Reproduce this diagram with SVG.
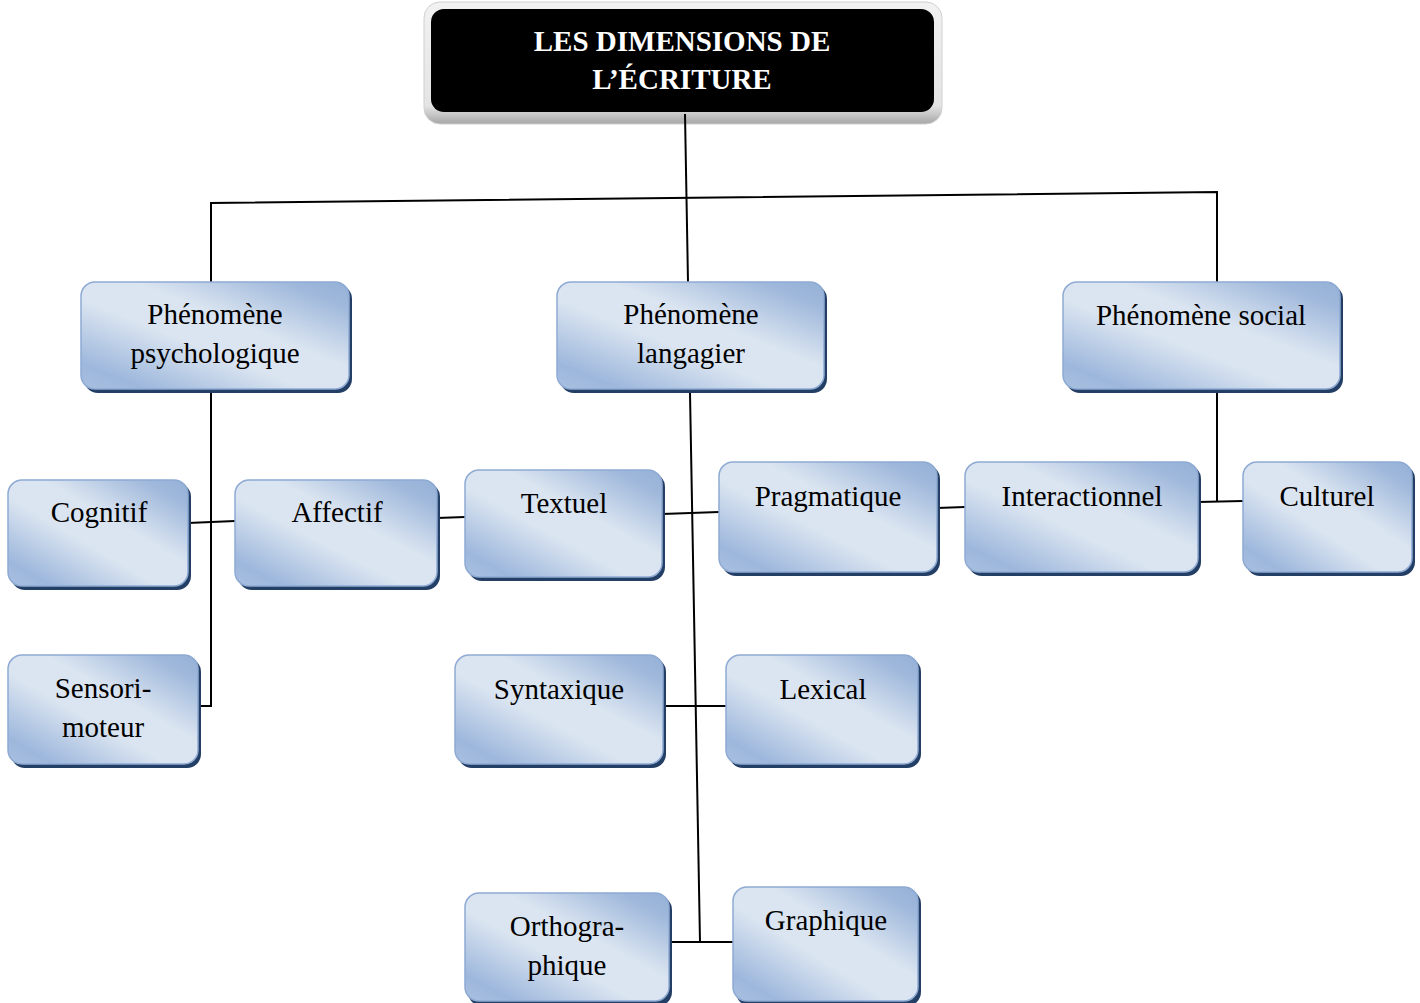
<svg xmlns="http://www.w3.org/2000/svg" width="1420" height="1003" viewBox="0 0 1420 1003">
  <defs>
    <linearGradient id="boxFill" x1="0" y1="1" x2="1" y2="0">
      <stop offset="0" stop-color="#a9c0e0"/>
      <stop offset="0.12" stop-color="#9db7dc"/>
      <stop offset="0.42" stop-color="#dbe5f1"/>
      <stop offset="0.6" stop-color="#dbe5f1"/>
      <stop offset="0.88" stop-color="#9fb8db"/>
      <stop offset="1" stop-color="#95b1d7"/>
    </linearGradient>
    <linearGradient id="frameFill" x1="0" y1="0" x2="0" y2="1">
      <stop offset="0" stop-color="#f2f2f2"/>
      <stop offset="0.85" stop-color="#e4e4e4"/>
      <stop offset="1" stop-color="#a6a6a6"/>
    </linearGradient>
  </defs>
  <style>
    .shadow { fill: #243f66; }
    .box { fill: url(#boxFill); stroke: #8eaad3; stroke-width: 1.5; }
    .lbl { font-family: "Liberation Serif", "Times New Roman", serif; font-size: 29px; fill: #000; text-anchor: middle; }
    .ttl { font-family: "Liberation Serif", "Times New Roman", serif; font-size: 29px; font-weight: bold; fill: #fff; text-anchor: middle; }
    .link { fill: none; stroke: #000; stroke-width: 2; }
  </style>
  <rect width="1420" height="1003" fill="#fff"/>

  <!-- title -->
  <g id="title">
    <rect x="424" y="2" width="518" height="122" rx="16" fill="url(#frameFill)" stroke="#d0d0d0" stroke-width="1"/>
    <rect x="431" y="9" width="503" height="103" rx="13" fill="#000"/>
    <text class="ttl" x="682" y="51">LES DIMENSIONS DE</text>
    <text class="ttl" x="682" y="89">L’ÉCRITURE</text>
  </g>

  <!-- connectors -->
  <g id="connectors">
    <path class="link" d="M685,114 L688,282"/>
    <path class="link" d="M211,282 L211,203 L1217,192 L1217,282"/>
    <path class="link" d="M211,392 L211,706 L198,706"/>
    <path class="link" d="M188,523 L235,521"/>
    <path class="link" d="M437,518 L465,517"/>
    <path class="link" d="M690,393 L700,942"/>
    <path class="link" d="M662,514 L719,512"/>
    <path class="link" d="M937,508 L965,507"/>
    <path class="link" d="M1217,392 L1217,502"/>
    <path class="link" d="M1198,502 L1243,501"/>
    <path class="link" d="M663,706 L726,706"/>
    <path class="link" d="M669,942 L733,942"/>
  </g>

  <g id="psychologique">
    <rect class="shadow" x="84" y="285" width="268" height="108" rx="14"/>
    <rect class="box" x="81" y="282" width="268" height="107" rx="14"/>
    <text class="lbl" x="215" y="324">Phénomène</text>
    <text class="lbl" x="215" y="363">psychologique</text>
  </g>
  <g id="langagier">
    <rect class="shadow" x="560" y="285" width="267" height="108" rx="14"/>
    <rect class="box" x="557" y="282" width="267" height="107" rx="14"/>
    <text class="lbl" x="691" y="324">Phénomène</text>
    <text class="lbl" x="691" y="363">langagier</text>
  </g>
  <g id="social">
    <rect class="shadow" x="1066" y="285" width="277" height="108" rx="14"/>
    <rect class="box" x="1063" y="282" width="277" height="107" rx="14"/>
    <text class="lbl" x="1201" y="325">Phénomène social</text>
  </g>

  <g id="cognitif">
    <rect class="shadow" x="11" y="483" width="180" height="107" rx="14"/>
    <rect class="box" x="8" y="480" width="180" height="106" rx="14"/>
    <text class="lbl" x="99" y="522">Cognitif</text>
  </g>
  <g id="affectif">
    <rect class="shadow" x="238" y="483" width="202" height="107" rx="14"/>
    <rect class="box" x="235" y="480" width="202" height="106" rx="14"/>
    <text class="lbl" x="337" y="522">Affectif</text>
  </g>
  <g id="textuel">
    <rect class="shadow" x="468" y="473" width="197" height="108" rx="14"/>
    <rect class="box" x="465" y="470" width="197" height="107" rx="14"/>
    <text class="lbl" x="564" y="513">Textuel</text>
  </g>
  <g id="pragmatique">
    <rect class="shadow" x="722" y="465" width="218" height="111" rx="14"/>
    <rect class="box" x="719" y="462" width="218" height="110" rx="14"/>
    <text class="lbl" x="828" y="506">Pragmatique</text>
  </g>
  <g id="interactionnel">
    <rect class="shadow" x="968" y="465" width="233" height="111" rx="14"/>
    <rect class="box" x="965" y="462" width="233" height="110" rx="14"/>
    <text class="lbl" x="1082" y="506">Interactionnel</text>
  </g>
  <g id="culturel">
    <rect class="shadow" x="1246" y="465" width="169" height="111" rx="14"/>
    <rect class="box" x="1243" y="462" width="169" height="110" rx="14"/>
    <text class="lbl" x="1327" y="506">Culturel</text>
  </g>

  <g id="sensori-moteur">
    <rect class="shadow" x="11" y="658" width="190" height="110" rx="14"/>
    <rect class="box" x="8" y="655" width="190" height="109" rx="14"/>
    <text class="lbl" x="103" y="698">Sensori-</text>
    <text class="lbl" x="103" y="737">moteur</text>
  </g>
  <g id="syntaxique">
    <rect class="shadow" x="458" y="658" width="208" height="110" rx="14"/>
    <rect class="box" x="455" y="655" width="208" height="109" rx="14"/>
    <text class="lbl" x="559" y="699">Syntaxique</text>
  </g>
  <g id="lexical">
    <rect class="shadow" x="729" y="658" width="192" height="110" rx="14"/>
    <rect class="box" x="726" y="655" width="192" height="109" rx="14"/>
    <text class="lbl" x="823" y="699">Lexical</text>
  </g>

  <g id="orthographique">
    <rect class="shadow" x="468" y="896" width="204" height="110" rx="14"/>
    <rect class="box" x="465" y="893" width="204" height="108" rx="14"/>
    <text class="lbl" x="567" y="936">Orthogra-</text>
    <text class="lbl" x="567" y="975">phique</text>
  </g>
  <g id="graphique">
    <rect class="shadow" x="736" y="890" width="185" height="116" rx="14"/>
    <rect class="box" x="733" y="887" width="185" height="114" rx="14"/>
    <text class="lbl" x="826" y="930">Graphique</text>
  </g>
</svg>
